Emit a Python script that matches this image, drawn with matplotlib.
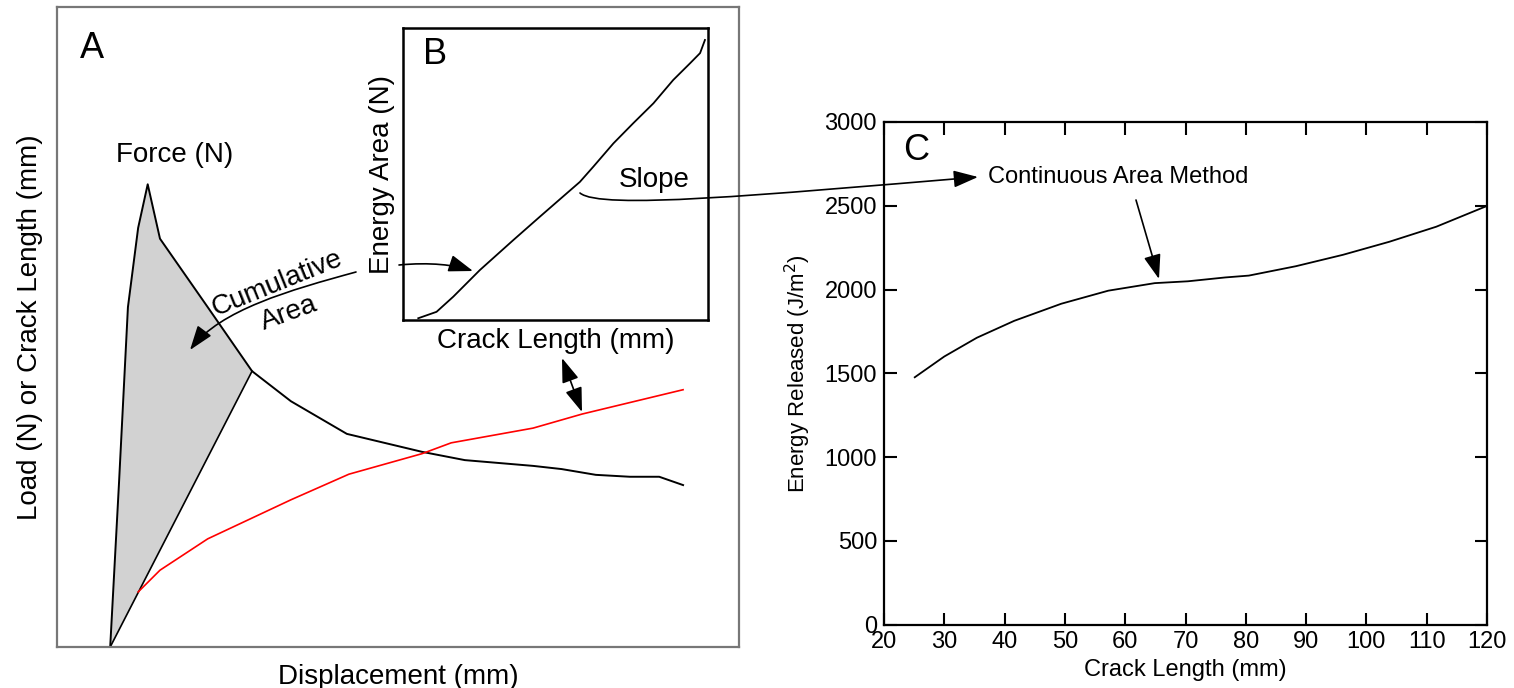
import numpy as np
import matplotlib
matplotlib.use('Agg')
import matplotlib.pyplot as plt
from matplotlib.patches import FancyArrowPatch
from matplotlib.path import Path

plt.rcParams['font.family'] = ['Liberation Sans', 'DejaVu Sans']

W, H = 1514, 688

# panel A: force and crack length vs displacement (arbitrary units, no ticks)
force_disp = [0.78, 0.91, 1.04, 1.19, 1.33, 1.51, 2.21, 2.86, 3.43, 4.25, 5.35,
              5.98, 6.98, 7.40, 7.90, 8.40, 8.83, 9.18]
force_load = [0.0, 25.8, 53.1, 65.5, 72.3, 63.8, 53.1, 43.1, 38.4, 33.3, 30.5,
              29.2, 28.3, 27.8, 26.9, 26.6, 26.6, 25.3]
n_area = 8  # force points that bound the cumulative area

crack_disp = [1.19, 1.51, 2.21, 3.43, 4.28, 5.35, 5.78, 6.98, 7.70, 9.18]
crack_len = [8.6, 12.0, 16.9, 23.0, 27.0, 30.2, 31.9, 34.2, 36.4, 40.2]

# panel B: energy area vs crack length
b_crack = [5.0, 11.0, 16.5, 25.2, 36.2, 44.9, 53.7, 58.0, 62.4, 69.0, 75.5,
           82.1, 88.6, 94.1, 97.4, 99.0]
b_energy = [0.6, 2.8, 8.0, 17.1, 27.4, 35.4, 43.4, 47.3, 52.5, 60.5, 67.4,
            74.2, 82.2, 87.9, 91.4, 95.9]

# panel C: energy released vs crack length
c_crack = [25.1, 30.0, 35.4, 41.6, 49.4, 57.2, 64.9, 70.4, 76.6, 80.5, 88.3,
           96.1, 103.8, 111.6, 120.0]
c_energy = [1476, 1600, 1712, 1813, 1915, 1993, 2038, 2049, 2072, 2083, 2139,
            2207, 2285, 2375, 2499]
c_xticks = list(range(20, 121, 10))
c_yticks = list(range(0, 3001, 500))


def px(x, y):
    # pixel position (from top-left) -> figure fraction
    return (x / W, 1 - y / H)


def box(l, t, r, b):
    return [l / W, 1 - b / H, (r - l) / W, (b - t) / H]


fig = plt.figure(figsize=(W / 100, H / 100), dpi=100)

# ---- panel A
axA = fig.add_axes(box(57, 7, 739, 647))
axA.set_xlim(0, 10)
axA.set_ylim(0, 100)
axA.set_xticks([])
axA.set_yticks([])
for s in axA.spines.values():
    s.set_color('#777777')
    s.set_linewidth(1.6)
axA.fill(force_disp[:n_area], force_load[:n_area], color='#d2d2d2', lw=0)
axA.plot(force_disp, force_load, color='k', lw=1.4)
axA.plot([force_disp[n_area - 1], force_disp[0]],
         [force_load[n_area - 1], force_load[0]], color='k', lw=1.2)
axA.plot(crack_disp, crack_len, color='red', lw=1.2)
axA.set_xlabel('Displacement (mm)', fontsize=20, labelpad=12)
axA.set_ylabel('Load (N) or Crack Length (mm)', fontsize=20, labelpad=10)

# ---- panel B (inset)
axB = fig.add_axes(box(403, 28, 708, 320))
axB.set_xlim(0, 100)
axB.set_ylim(0, 100)
axB.set_xticks([])
axB.set_yticks([])
for s in axB.spines.values():
    s.set_linewidth(1.8)
axB.plot(b_crack, b_energy, color='k', lw=1.3)
axB.set_xlabel('Crack Length (mm)', fontsize=20, labelpad=6)
axB.set_ylabel('Energy Area (N)', fontsize=20, labelpad=6)

# ---- panel C
axC = fig.add_axes(box(884, 122, 1487, 624.5))
axC.plot(c_crack, c_energy, color='k', lw=1.3)
axC.set_xlim(20, 120)
axC.set_ylim(0, 3000)
axC.set_xticks(c_xticks)
axC.set_yticks(c_yticks)
axC.tick_params(direction='in', length=9, width=1.5, labelsize=17,
                top=True, right=True, pad=5)
for s in axC.spines.values():
    s.set_linewidth(1.6)
axC.set_xlabel('Crack Length (mm)', fontsize=17, labelpad=4)
axC.set_ylabel('Energy Released (J/m$^2$)', fontsize=16, labelpad=8)

# ---- texts
fig.text(*px(92, 48), 'A', fontsize=26, ha='center', va='center')
fig.text(*px(435, 55), 'B', fontsize=26, ha='center', va='center')
fig.text(*px(916, 151), 'C', fontsize=26, ha='center', va='center')
fig.text(*px(175, 155), 'Force (N)', fontsize=20, ha='center', va='center')
fig.text(*px(277, 284), 'Cumulative', fontsize=20, ha='center', va='center',
         rotation=22, rotation_mode='anchor')
fig.text(*px(289, 313), 'Area', fontsize=20, ha='center', va='center',
         rotation=20, rotation_mode='anchor')
fig.text(*px(654, 180), 'Slope', fontsize=20, ha='center', va='center')
fig.text(*px(988, 177), 'Continuous Area Method', fontsize=17,
         ha='left', va='center')


# ---- arrows
def arrow(pts, style='-|>'):
    verts = [px(*p) for p in pts]
    if len(pts) == 4:
        codes = [Path.MOVETO, Path.CURVE4, Path.CURVE4, Path.CURVE4]
    else:
        codes = [Path.MOVETO, Path.LINETO]
    a = FancyArrowPatch(path=Path(verts, codes), arrowstyle=style,
                        mutation_scale=15, lw=1.2, color='k',
                        transform=fig.transFigure)
    fig.add_artist(a)


head = '-|>,head_length=1.0,head_width=0.35'
arrow([(356, 272), (290, 290), (220, 310), (190, 350)], head)
arrow([(399, 265), (430, 262), (455, 265), (473, 271)], head)
arrow([(580, 193), (600, 210), (760, 195), (978, 177)], head)
arrow([(562, 358), (582, 412)], '<|-|>,head_length=1.0,head_width=0.35')
arrow([(1136, 200), (1159, 279)], head)

fig.savefig('out.png', dpi=100)
